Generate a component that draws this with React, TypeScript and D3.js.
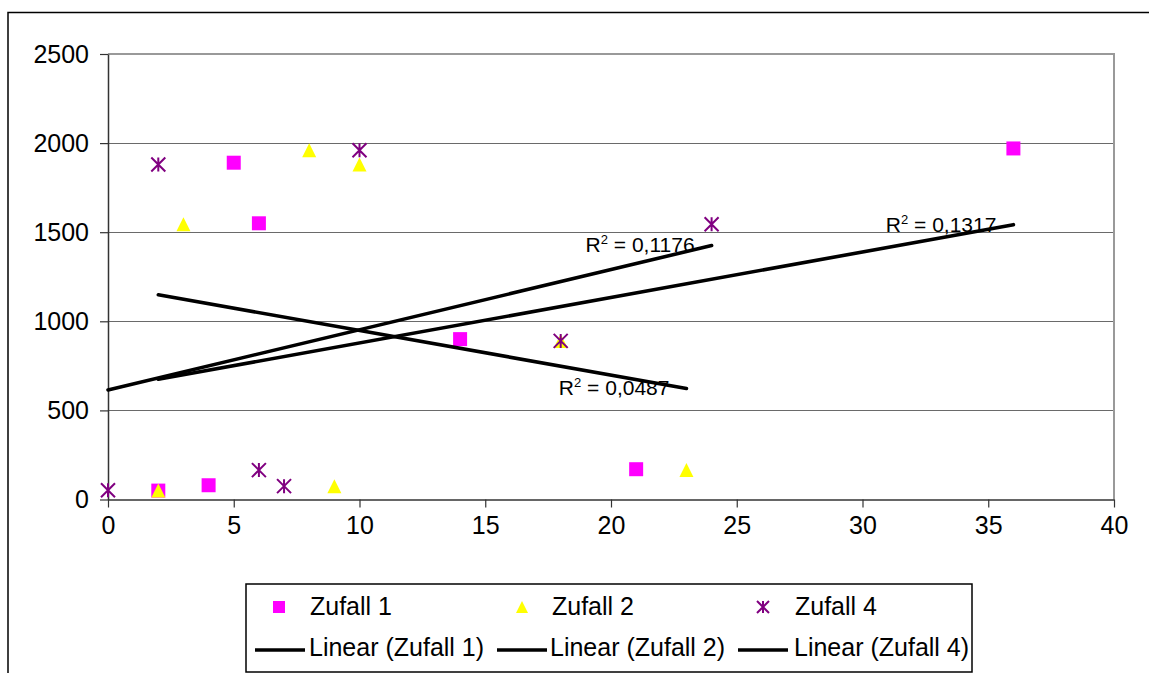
import React, { useEffect, useRef } from 'react';
import * as d3 from 'd3';

// values
const zufall1X = [2, 4, 5, 6, 14, 21, 36];
const zufall1Y = [50, 80, 1890, 1550, 900, 170, 1970];
const zufall2X = [2, 3, 8, 9, 10, 18, 23];
const zufall2Y = [50, 1545, 1960, 75, 1880, 890, 165];
const zufall4X = [0, 2, 6, 7, 10, 18, 24];
const zufall4Y = [52, 1880, 165, 75, 1960, 890, 1545];

const seriesNames = ['Zufall 1', 'Zufall 2', 'Zufall 4'];
const seriesColors = ['#ff00ff', '#ffff00', '#800080'];
const seriesMarkers = ['square', 'triangle', 'asterisk'];
const r2Labels = ['0,1317', '0,0487', '0,1176'];

const xTicks = [0, 5, 10, 15, 20, 25, 30, 35, 40];
const yTicks = [0, 500, 1000, 1500, 2000, 2500];

const FONT = '"Liberation Sans", Arial, sans-serif';

function linearFit(xs: number[], ys: number[]) {
  const mx = d3.mean(xs)!;
  const my = d3.mean(ys)!;
  let sxy = 0;
  let sxx = 0;
  xs.forEach((x, i) => {
    sxy += (x - mx) * (ys[i] - my);
    sxx += (x - mx) * (x - mx);
  });
  const slope = sxy / sxx;
  const intercept = my - slope * mx;
  return (x: number) => intercept + slope * x;
}

function markerPath(kind: string, size: number) {
  const h = size / 2;
  if (kind === 'square') return `M${-h},${-h}H${h}V${h}H${-h}Z`;
  if (kind === 'triangle') return `M0,${-h}L${h},${h}L${-h},${h}Z`;
  return `M${-h},${-h}L${h},${h}M${h},${-h}L${-h},${h}M0,${-h}V${h}`;
}

function drawMarker(g: any, kind: string, color: string, size: number) {
  if (kind === 'asterisk') {
    g.append('path')
      .attr('d', markerPath(kind, size))
      .attr('fill', 'none')
      .attr('stroke', color)
      .attr('stroke-width', 2);
  } else {
    g.append('path').attr('d', markerPath(kind, size)).attr('fill', color);
  }
}

export default function App() {
  const ref = useRef<SVGSVGElement>(null);

  useEffect(() => {
    const svg = d3.select(ref.current);
    svg.selectAll('*').remove();

    const x = d3.scaleLinear().domain([0, 40]).range([108, 1114]);
    const y = d3.scaleLinear().domain([0, 2500]).range([499.5, 54]);

    // outer chart frame (runs off the right and bottom of the picture)
    svg
      .append('path')
      .attr('d', 'M8,700V12.5H1200')
      .attr('fill', 'none')
      .attr('stroke', '#000')
      .attr('stroke-width', 1.5);

    // gridlines
    svg
      .append('g')
      .selectAll('line')
      .data(yTicks.slice(1))
      .enter()
      .append('line')
      .attr('x1', x(0))
      .attr('x2', x(40))
      .attr('y1', (d) => Math.round(y(d)) + 0.5)
      .attr('y2', (d) => Math.round(y(d)) + 0.5)
      .attr('stroke', '#6a6a6a')
      .attr('stroke-width', 1);

    // plot area border on the right / top
    svg
      .append('path')
      .attr('d', `M${x(0)},${y(2500)}H${x(40)}V${y(0)}`)
      .attr('fill', 'none')
      .attr('stroke', '#999')
      .attr('stroke-width', 2);

    const yAxis = d3
      .axisLeft(y)
      .tickValues(yTicks)
      .tickFormat(d3.format('d'))
      .tickSize(8)
      .tickSizeOuter(0)
      .tickPadding(11);
    const yg = svg.append('g').attr('transform', `translate(${x(0)},0)`).call(yAxis);
    yg.select('.domain').attr('stroke', '#333').attr('stroke-width', 1.5);
    yg.selectAll('.tick line').attr('stroke', '#333').attr('stroke-width', 1.2);
    yg.selectAll('.tick text')
      .attr('font-family', FONT)
      .attr('font-size', 25)
      .attr('fill', '#000');

    const xAxis = d3
      .axisBottom(x)
      .tickValues(xTicks)
      .tickFormat(d3.format('d'))
      .tickSize(8)
      .tickSizeOuter(0)
      .tickPadding(9);
    const xg = svg.append('g').attr('transform', `translate(0,${y(0)})`).call(xAxis);
    xg.select('.domain').attr('stroke', '#333').attr('stroke-width', 1.5);
    xg.selectAll('.tick line').attr('stroke', '#333').attr('stroke-width', 1.2);
    xg.selectAll('.tick text')
      .attr('font-family', FONT)
      .attr('font-size', 25)
      .attr('fill', '#000');

    const series = [
      { xs: zufall1X, ys: zufall1Y },
      { xs: zufall2X, ys: zufall2Y },
      { xs: zufall4X, ys: zufall4Y },
    ];

    // markers
    series.forEach((s, si) => {
      s.xs.forEach((xv, i) => {
        const g = svg
          .append('g')
          .attr('transform', `translate(${x(xv)},${y(s.ys[i])})`);
        drawMarker(g, seriesMarkers[si], seriesColors[si], 14);
      });
    });

    // linear trendlines with R² labels
    series.forEach((s) => {
      const f = linearFit(s.xs, s.ys);
      const x0 = d3.min(s.xs)!;
      const x1 = d3.max(s.xs)!;
      svg
        .append('line')
        .attr('x1', x(x0))
        .attr('y1', y(f(x0)))
        .attr('x2', x(x1))
        .attr('y2', y(f(x1)))
        .attr('stroke', '#000')
        .attr('stroke-width', 3.6)
        .attr('stroke-linecap', 'round');
    });
    series.forEach((s, si) => {
      const f = linearFit(s.xs, s.ys);
      const x1 = d3.max(s.xs)!;
      const t = svg
        .append('text')
        .attr('x', x(x1) - 17)
        .attr('y', y(f(x1)) + 7)
        .attr('text-anchor', 'end')
        .attr('font-family', FONT)
        .attr('font-size', 21)
        .attr('fill', '#000');
      t.append('tspan').text('R');
      t.append('tspan').attr('font-size', 13).attr('dy', -8).text('2');
      t.append('tspan').attr('dy', 8).text(` = ${r2Labels[si]}`);
    });

    // legend
    const legend = svg.append('g');
    legend
      .append('rect')
      .attr('x', 246)
      .attr('y', 584)
      .attr('width', 726)
      .attr('height', 88)
      .attr('fill', '#fff')
      .attr('stroke', '#000')
      .attr('stroke-width', 1.5);
    const markerX = [279, 522, 763];
    const markerTextX = [310, 552, 795];
    const lineX = [255, 497, 738];
    const lineTextX = [309, 550, 794];
    seriesNames.forEach((name, i) => {
      const g = legend.append('g').attr('transform', `translate(${markerX[i]},607)`);
      drawMarker(g, seriesMarkers[i], seriesColors[i], 12);
      legend
        .append('text')
        .attr('x', markerTextX[i])
        .attr('y', 615)
        .attr('font-family', FONT)
        .attr('font-size', 25)
        .text(name);
      legend
        .append('line')
        .attr('x1', lineX[i])
        .attr('x2', lineX[i] + 50)
        .attr('y1', 650)
        .attr('y2', 650)
        .attr('stroke', '#000')
        .attr('stroke-width', 3.6);
      legend
        .append('text')
        .attr('x', lineTextX[i])
        .attr('y', 656)
        .attr('font-family', FONT)
        .attr('font-size', 25)
        .text(`Linear (${name})`);
    });
  }, []);

  return (
    <svg
      ref={ref}
      width={1149}
      height={673}
      style={{ position: 'absolute', left: 0, top: 0, background: '#fff' }}
    />
  );
}
